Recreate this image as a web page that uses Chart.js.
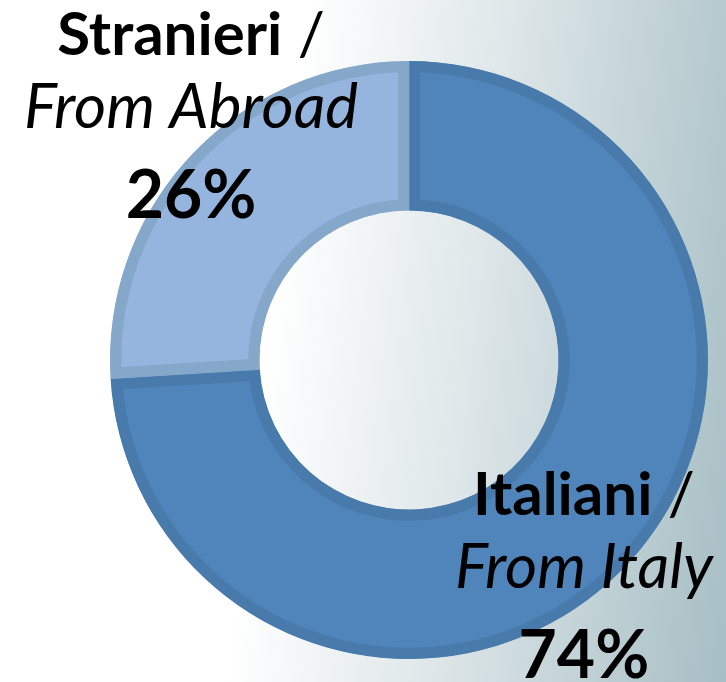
<!DOCTYPE html>
<html>
<head>
<meta charset="utf-8">
<script src="https://cdn.jsdelivr.net/npm/chart.js@4.4.1/dist/chart.umd.min.js"></script>
<style>
	html, body { margin: 0; padding: 0; }
	body {
		width: 726px; height: 682px; overflow: hidden;
		background: linear-gradient(97deg, #ffffff 0%, #ffffff 38%, #e0e8ea 62%, #a6bec4 100%);
	}
	#wrap { position: relative; width: 726px; height: 682px; }
</style>
</head>
<body>
<div id="wrap"><canvas id="chart"></canvas></div>
<script>
const labels = ['Italiani', 'Stranieri'];
const subLabels = ['From Italy', 'From Abroad'];
const values = [74, 26];

const fillColors = ['#4f85ba', '#95b5de'];
const borderColors = ['#487bab', '#85a7ca'];

// label anchor (center x, first baseline) in units of the outer radius, from the arc centre
const labelAnchors = [[0.585, 0.518], [-0.729, -1.02]];

const FONT = 'Lato, "Open Sans", sans-serif';

const sliceLabels = {
	id: 'sliceLabels',
	afterDraw(chart) {
		const ctx = chart.ctx;
		const meta = chart.getDatasetMeta(0);
		const total = values.reduce((a, b) => a + b, 0);
		meta.data.forEach((arc, i) => {
			const { x, y, outerRadius } = arc.getProps(['x', 'y', 'outerRadius'], true);
			const cx = x + labelAnchors[i][0] * outerRadius;
			const by = y + labelAnchors[i][1] * outerRadius;
			ctx.save();
			ctx.fillStyle = '#000';
			ctx.textBaseline = 'alphabetic';
			ctx.textAlign = 'left';

			// line 1: bold name + regular slash
			const bold = `bold 60px ${FONT}`, reg = `60px ${FONT}`;
			ctx.font = bold;
			const w1 = ctx.measureText(labels[i]).width;
			ctx.font = reg;
			const w2 = ctx.measureText(' /').width;
			const sx = cx - (w1 + w2) / 2;
			ctx.font = bold;
			ctx.fillText(labels[i], sx, by);
			ctx.font = reg;
			ctx.fillText(' /', sx + w1, by);

			// line 2: italic english
			ctx.textAlign = 'center';
			ctx.font = `italic 62px ${FONT}`;
			ctx.fillText(subLabels[i], cx, by + 73);

			// line 3: percentage
			ctx.font = `bold 66px ${FONT}`;
			ctx.fillText(Math.round(values[i] / total * 100) + '%', cx, by + 163);
			ctx.restore();
		});
	}
};

new Chart(document.getElementById('chart'), {
	type: 'doughnut',
	data: {
		labels,
		datasets: [{
			data: values,
			backgroundColor: fillColors,
			borderColor: borderColors,
			borderWidth: 11,
			borderAlign: 'inner',
			hoverOffset: 0
		}]
	},
	options: {
		responsive: true, maintainAspectRatio: false,
		cutout: '50%',
		layout: { padding: { left: 110, right: 18, top: 61, bottom: 23 } },
		plugins: { legend: { display: false }, tooltip: { enabled: false } },
		animation: { duration: 0 }
	},
	plugins: [sliceLabels]
});
</script>
</body>
</html>
